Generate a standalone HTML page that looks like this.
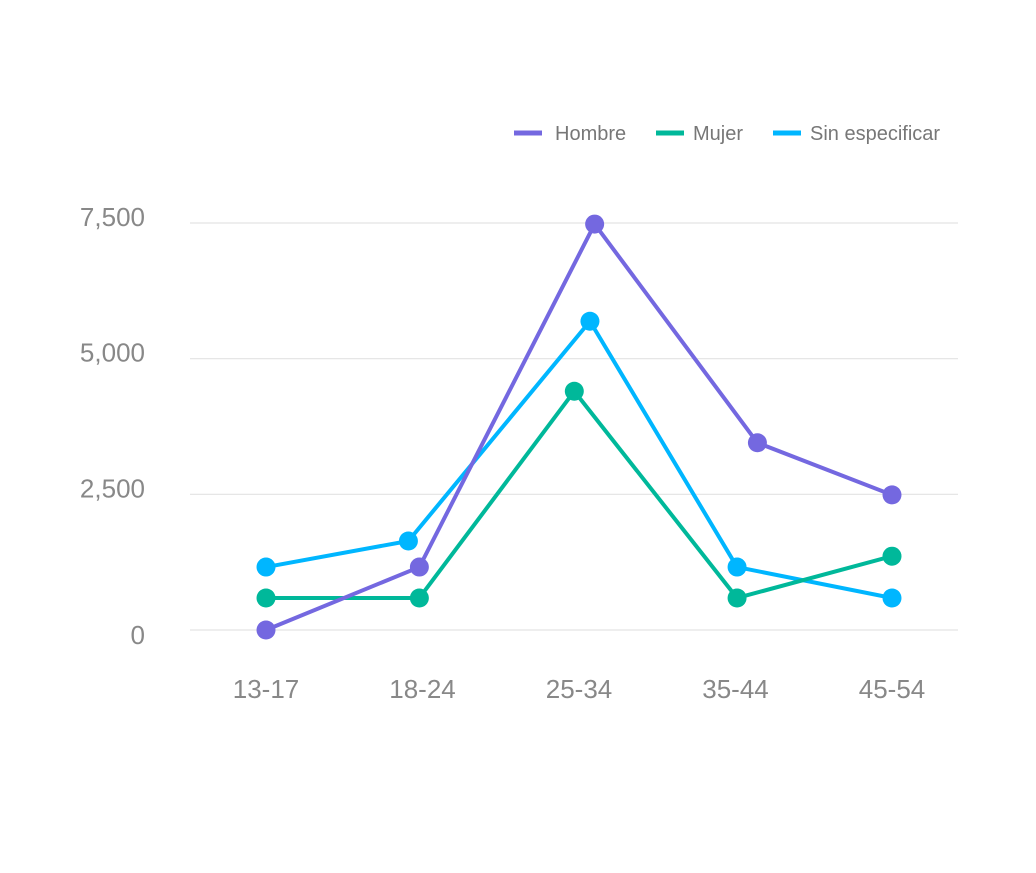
<!DOCTYPE html>
<html><head><meta charset="utf-8"><style>
body{margin:0;background:#fff;}
svg{display:block;font-family:"Liberation Sans",sans-serif;}
</style></head><body>
<svg id="c" width="1036" height="873"></svg>
<script>
const categories=["13-17","18-24","25-34","35-44","45-54"];
const yTicks=[0,2500,5000,7500];
const yTickLabels=["0","2,500","5,000","7,500"];
const seriesNames=["Hombre","Mujer","Sin especificar"];
const hombreValues=[0,1160,7480,3450,2490];
const mujerValues=[590,590,4400,590,1360];
const sinValues=[1160,1640,5690,1160,590];
const hombreX=[0,0.98,2.1,3.14,4];
const mujerX=[0,0.98,1.97,3.01,4];
const sinX=[0,0.91,2.07,3.01,4];
const colors=["#7468e0","#00b89a","#00b6ff"];
const svg=document.getElementById('c');
const NS="http://www.w3.org/2000/svg";
const x=i=>266+i*156.5;
const y=v=>630-v*(407/7500);
function mk(t,a,txt){const e=document.createElementNS(NS,t);for(const k in a)e.setAttribute(k,a[k]);if(txt!=null)e.textContent=txt;svg.appendChild(e);return e;}
yTicks.forEach((v,i)=>{
 const g=mk('line',{x1:190,x2:958,y1:y(v),y2:y(v),stroke:'#e3e3e3','stroke-width':1.2});
 
 
 const t=mk('text',{x:145,y:y(v)+(v===0?14:3),'text-anchor':'end','font-size':26,fill:'#888'},yTickLabels[i]);
 
 
});
categories.forEach((c,i)=>{
 const t=mk('text',{x:x(i),y:698,'text-anchor':'middle','font-size':26,fill:'#888'},c);
 
 
});
const all=[[hombreX,hombreValues],[mujerX,mujerValues],[sinX,sinValues]];
[2,1,0].forEach(s=>{
 const [xs,vs]=all[s];
 const p=mk('polyline',{points:vs.map((v,i)=>x(xs[i])+','+y(v)).join(' '),fill:'none',stroke:colors[s],'stroke-width':4,'stroke-linejoin':'round'});
 
 
 vs.forEach((v,i)=>{
  const c=mk('circle',{cx:x(xs[i]),cy:y(v),r:9.5,fill:colors[s]});
  
  
 });
});
const lx=[514,656,773];
seriesNames.forEach((n,i)=>{
 const l=mk('line',{x1:lx[i],x2:lx[i]+28,y1:133,y2:133,stroke:colors[i],'stroke-width':5});
 
 
 const t=mk('text',{x:lx[i]+(i==0?41:37),y:140,'font-size':20,fill:'#777'},n);
 
 
});
</script>
</body></html>
